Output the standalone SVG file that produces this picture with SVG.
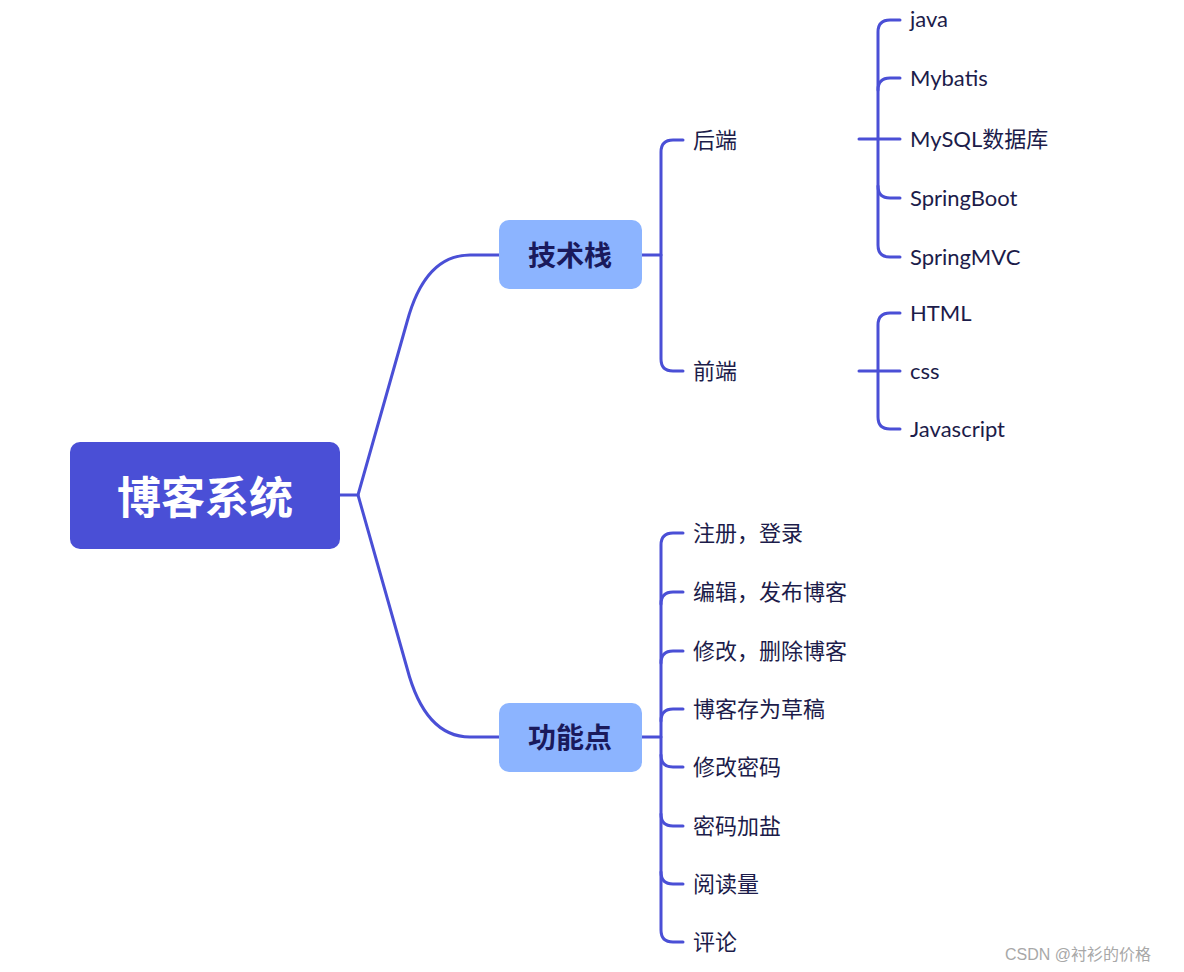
<svg xmlns="http://www.w3.org/2000/svg" width="1184" height="972" viewBox="0 0 1184 972">
<style>
.ln{fill:none;stroke:#4a4fd6;stroke-width:3;stroke-linecap:round}
.t{font-family:Lato,"Noto Sans CJK SC",sans-serif;font-size:22px;fill:#1c1c4a;dominant-baseline:central}
.sub{fill:#8cb4ff}
.st{font-family:"Noto Sans CJK SC",sans-serif;font-size:28px;font-weight:bold;fill:#1a1a5c;text-anchor:middle;dominant-baseline:central}
</style>
<rect width="1184" height="972" fill="#fff"/>
<g id="connectors">
<path class="ln" d="M340 495 H358 L407 322 Q425 255 470 255 H499"/>
<path class="ln" d="M358 495 L407 668 Q425 737 470 737 H499"/>
<path class="ln" d="M642 255 H661"/>
<path class="ln" d="M683 140 H673 Q661 140 661 152 V359 Q661 371 673 371 H683"/>
<path class="ln" d="M859 139 H900"/>
<path class="ln" d="M900 20 H890 Q878 20 878 32 V245 Q878 257 890 257 H900"/>
<path class="ln" d="M878 90 Q878 78 890 78 H900"/>
<path class="ln" d="M878 186 Q878 198 890 198 H900"/>
<path class="ln" d="M859 371 H900"/>
<path class="ln" d="M900 313 H890 Q878 313 878 325 V417 Q878 429 890 429 H900"/>
<path class="ln" d="M642 737 H661"/>
<path class="ln" d="M683 533 H673 Q661 533 661 545 V930 Q661 942 673 942 H683"/>
<path class="ln" d="M661 604 Q661 592 673 592 H683"/>
<path class="ln" d="M661 663 Q661 651 673 651 H683"/>
<path class="ln" d="M661 721 Q661 709 673 709 H683"/>
<path class="ln" d="M661 755 Q661 767 673 767 H683"/>
<path class="ln" d="M661 814 Q661 826 673 826 H683"/>
<path class="ln" d="M661 872 Q661 884 673 884 H683"/>
</g>
<g id="root">
<rect x="70" y="442" width="270" height="107" rx="10" fill="#4a4fd6"/>
<text x="205" y="495" font-family="'Noto Sans CJK SC',sans-serif" font-size="44" font-weight="bold" fill="#fff" text-anchor="middle" dominant-baseline="central">博客系统</text>
</g>
<g id="tech">
<rect class="sub" x="499" y="220" width="143" height="69" rx="10"/>
<text class="st" x="570" y="254">技术栈</text>
</g>
<g id="func">
<rect class="sub" x="499" y="703" width="143" height="69" rx="10"/>
<text class="st" x="570" y="736">功能点</text>
</g>
<g id="backend"><text class="t" x="693" y="139">后端</text></g>
<g id="frontend"><text class="t" x="693" y="370">前端</text></g>
<g id="java"><text class="t" x="910" y="18">java</text></g>
<g id="mybatis"><text class="t" x="910" y="77">Mybatis</text></g>
<g id="mysql"><text class="t" x="910" y="138">MySQL数据库</text></g>
<g id="springboot"><text class="t" x="910" y="197">SpringBoot</text></g>
<g id="springmvc"><text class="t" x="910" y="256">SpringMVC</text></g>
<g id="html"><text class="t" x="910" y="312">HTML</text></g>
<g id="css"><text class="t" x="910" y="370">css</text></g>
<g id="js"><text class="t" x="910" y="428">Javascript</text></g>
<g id="f1"><text class="t" x="693" y="532">注册，登录</text></g>
<g id="f2"><text class="t" x="693" y="591">编辑，发布博客</text></g>
<g id="f3"><text class="t" x="693" y="650">修改，删除博客</text></g>
<g id="f4"><text class="t" x="693" y="708">博客存为草稿</text></g>
<g id="f5"><text class="t" x="693" y="766">修改密码</text></g>
<g id="f6"><text class="t" x="693" y="825">密码加盐</text></g>
<g id="f7"><text class="t" x="693" y="883">阅读量</text></g>
<g id="f8"><text class="t" x="693" y="941">评论</text></g>
<text x="1005" y="954" font-family="'Liberation Sans','Noto Sans CJK SC',sans-serif" font-size="16" fill="#a8a8a8" dominant-baseline="central">CSDN @衬衫的价格</text>
</svg>
